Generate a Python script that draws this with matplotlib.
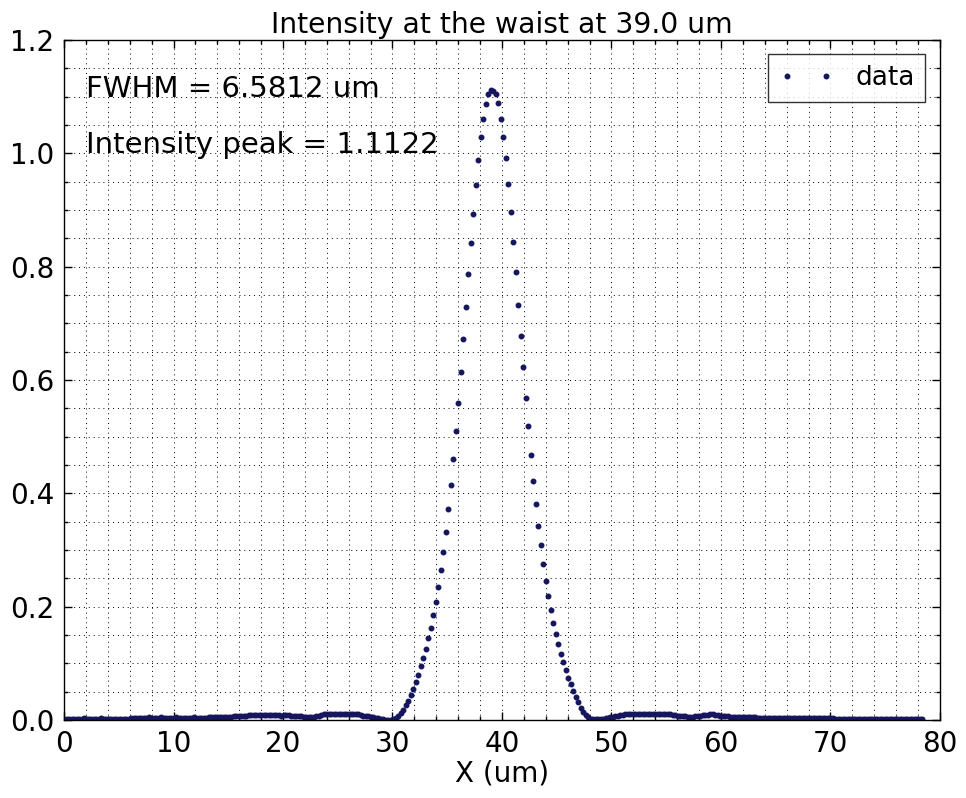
import numpy as np
import matplotlib
matplotlib.use("Agg")
import matplotlib.pyplot as plt
from matplotlib.ticker import MultipleLocator

x_start = 0.0
x_end = 78.4

# baseline left of the beam (x ~ 0 .. 29.7 um)
baseline_left = [
    0.002, 0.002, 0.002, 0.001, 0.002, 0.002, 0.002, 0.002, 0.003, 0.002,
    0.002, 0.002, 0.002, 0.002, 0.002, 0.003, 0.002, 0.002, 0.002, 0.002,
    0.002, 0.002, 0.002, 0.002, 0.002, 0.002, 0.002, 0.003, 0.003, 0.003,
    0.003,
    0.004, 0.004, 0.004, 0.0045, 0.004, 0.004, 0.004, 0.004, 0.0045, 0.004,
    0.004, 0.004, 0.004, 0.004, 0.0045, 0.004, 0.004, 0.004, 0.004, 0.004,
    0.004, 0.0045, 0.004, 0.004, 0.004, 0.004, 0.004, 0.0045, 0.0045, 0.0045,
    0.005, 0.005, 0.005, 0.005, 0.005,
    0.006, 0.006, 0.007, 0.007, 0.007, 0.008, 0.008, 0.008,
    0.009, 0.009, 0.009, 0.009, 0.009, 0.009, 0.009, 0.009, 0.009, 0.009,
    0.009, 0.009, 0.009, 0.008, 0.009, 0.009, 0.009, 0.008, 0.008, 0.008,
    0.007,
    0.007, 0.006, 0.006, 0.006, 0.006, 0.006, 0.007, 0.008, 0.009, 0.010,
    0.010, 0.011, 0.011, 0.011, 0.011, 0.011, 0.011, 0.011, 0.011, 0.011,
    0.011, 0.010, 0.010, 0.010,
    0.009, 0.008, 0.008, 0.007, 0.006, 0.005, 0.004, 0.003, 0.002, 0.001,
    0.000, 0.000,
]

# main lobe (x ~ 29.9 .. 48.3 um)
peak_profile = [
    0.000, 0.001, 0.003, 0.007, 0.012, 0.018, 0.026, 0.034, 0.044, 0.055,
    0.067, 0.079, 0.095, 0.110, 0.125, 0.144, 0.162, 0.185, 0.209, 0.235,
    0.265, 0.297, 0.332, 0.373, 0.415, 0.460, 0.510, 0.560, 0.615, 0.672,
    0.729, 0.787, 0.841, 0.893, 0.944, 0.989, 1.029, 1.061, 1.087, 1.104,
    1.1122,
    1.110, 1.104, 1.089, 1.061, 1.029, 0.991, 0.946, 0.896, 0.843, 0.790,
    0.733, 0.678, 0.623, 0.568, 0.518, 0.467, 0.422, 0.382, 0.342, 0.308,
    0.275, 0.245, 0.219, 0.194, 0.172, 0.152, 0.135, 0.116, 0.102, 0.088,
    0.075, 0.064, 0.052, 0.041, 0.031, 0.022, 0.015, 0.009, 0.005, 0.002,
    0.001,
]

# baseline right of the beam (x ~ 48.5 .. 78.4 um)
baseline_right = [
    0.001, 0.001, 0.002, 0.002, 0.003, 0.004, 0.005,
    0.006, 0.007, 0.008, 0.009, 0.009, 0.010,
    0.010, 0.010, 0.011, 0.011, 0.011, 0.011, 0.011, 0.011, 0.011, 0.011,
    0.011, 0.011, 0.010, 0.010, 0.010, 0.010, 0.010, 0.010, 0.009, 0.009,
    0.008, 0.008,
    0.007, 0.007, 0.006, 0.006, 0.006, 0.007, 0.008,
    0.008, 0.009, 0.009, 0.009, 0.010, 0.010, 0.009, 0.009, 0.008, 0.008,
    0.007, 0.007, 0.006, 0.006, 0.006, 0.006, 0.006, 0.006, 0.006, 0.005,
    0.005, 0.005, 0.005, 0.004, 0.004,
    0.003, 0.003, 0.003, 0.003, 0.003, 0.003, 0.003, 0.003, 0.003, 0.003,
    0.003, 0.003, 0.003, 0.003, 0.003, 0.003, 0.003, 0.003, 0.003, 0.003,
    0.003, 0.003, 0.003, 0.003, 0.003, 0.003, 0.003, 0.003, 0.003, 0.002,
    0.002, 0.002,
    0.0015, 0.0015, 0.0015, 0.0015, 0.0015, 0.0015, 0.0015, 0.0015, 0.0015,
    0.0015, 0.0015, 0.0015, 0.0015, 0.0015, 0.0015, 0.0015, 0.0015, 0.0015,
    0.0015, 0.0015, 0.0015, 0.0015, 0.0015, 0.0015, 0.0015, 0.0015, 0.0015,
    0.0015, 0.0015, 0.0015, 0.0015, 0.0015, 0.0015,
]

intensity = np.array(baseline_left + peak_profile + baseline_right)
x_um = np.linspace(x_start, x_end, len(intensity))

fwhm = 6.5812
peak = 1.1122
waist = 39.0

fig = plt.figure(figsize=(9.66, 7.98), dpi=100)
ax = fig.add_axes([0.0663, 0.0977, 0.9067, 0.8522])

ax.plot(x_um, intensity, ".", color="#16165e", markersize=6.5, label="data")

ax.set_xlim(0, 80)
ax.set_ylim(0, 1.2)
ax.xaxis.set_major_locator(MultipleLocator(10))
ax.xaxis.set_minor_locator(MultipleLocator(2))
ax.yaxis.set_major_locator(MultipleLocator(0.2))
ax.yaxis.set_minor_locator(MultipleLocator(0.05))

ax.grid(True, which="both", color="k", linestyle=(0, (1, 4)), linewidth=0.7)
ax.tick_params(which="both", direction="in", top=True, right=True,
               labelsize=20, width=1)
ax.tick_params(which="major", length=6, pad=7)
ax.tick_params(which="minor", length=3)
for s in ax.spines.values():
    s.set_linewidth(1.0)

ax.text(2, 1.1, f"FWHM = {fwhm:.4f} um", fontsize=21)
ax.text(2, 1.0, f"Intensity peak = {peak:.4f}", fontsize=21)

ax.set_title(f"Intensity at the waist at {waist} um", fontsize=20.3, pad=5)
ax.set_xlabel("X (um)", fontsize=20, labelpad=1)

leg = ax.legend(loc="upper right", numpoints=2, fontsize=19, fancybox=False,
                handlelength=2.1, borderaxespad=0.55)
leg.get_frame().set_edgecolor("k")
leg.get_frame().set_linewidth(1.0)

plt.savefig("out.png", dpi=100)
